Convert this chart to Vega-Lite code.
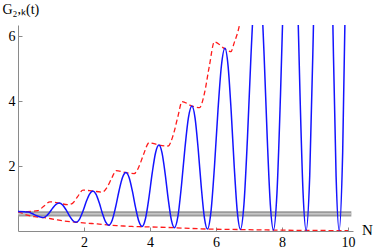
{
  "$schema": "https://vega.github.io/schema/vega-lite/v6.json",
  "width": 335,
  "height": 206,
  "autosize": {"type": "none"},
  "padding": {"left": 18, "top": 25, "right": 21, "bottom": 19},
  "background": "white",
  "config": {
    "view": {"stroke": null},
    "axis": {
      "grid": false,
      "domainColor": "#8a8a8a",
      "tickColor": "#8a8a8a",
      "tickSize": -4,
      "labelFont": "Liberation Serif",
      "labelFontSize": 14,
      "labelColor": "black",
      "titleFont": "Liberation Serif",
      "titleFontSize": 14,
      "titleFontWeight": "normal",
      "titleColor": "black"
    }
  },
  "datasets": {
    "band": [{"x": 0, "x2": 10.1, "y": 0.45, "y2": 0.61}],
    "mid": [{"x": 0, "x2": 10.1, "y": 0.53}],
    "blue": [
      {"x": 0, "y": 0.6}, {"x": 0.2, "y": 0.59}, {"x": 0.312, "y": 0.583}, {"x": 0.424, "y": 0.538}, {"x": 0.536, "y": 0.482}, {"x": 0.648, "y": 0.437}, {"x": 0.76, "y": 0.42},
      {"x": 0.858, "y": 0.462}, {"x": 0.956, "y": 0.572}, {"x": 1.054, "y": 0.708}, {"x": 1.152, "y": 0.818}, {"x": 1.25, "y": 0.86},
      {"x": 1.352, "y": 0.804}, {"x": 1.454, "y": 0.656}, {"x": 1.556, "y": 0.474}, {"x": 1.658, "y": 0.326}, {"x": 1.76, "y": 0.27},
      {"x": 1.862, "y": 0.361}, {"x": 1.964, "y": 0.601}, {"x": 2.066, "y": 0.899}, {"x": 2.168, "y": 1.139}, {"x": 2.27, "y": 1.23},
      {"x": 2.366, "y": 1.13}, {"x": 2.462, "y": 0.868}, {"x": 2.558, "y": 0.542}, {"x": 2.654, "y": 0.28}, {"x": 2.75, "y": 0.18},
      {"x": 2.854, "y": 0.334}, {"x": 2.958, "y": 0.739}, {"x": 3.062, "y": 1.241}, {"x": 3.166, "y": 1.646}, {"x": 3.27, "y": 1.8},
      {"x": 3.368, "y": 1.642}, {"x": 3.466, "y": 1.227}, {"x": 3.564, "y": 0.713}, {"x": 3.662, "y": 0.298}, {"x": 3.76, "y": 0.14},
      {"x": 3.862, "y": 0.378}, {"x": 3.964, "y": 1.006}, {"x": 4.066, "y": 1.784}, {"x": 4.168, "y": 2.412}, {"x": 4.27, "y": 2.65},
      {"x": 4.364, "y": 2.408}, {"x": 4.458, "y": 1.77}, {"x": 4.552, "y": 0.98}, {"x": 4.646, "y": 0.342}, {"x": 4.74, "y": 0.1},
      {"x": 4.846, "y": 0.456}, {"x": 4.952, "y": 1.394}, {"x": 5.058, "y": 2.556}, {"x": 5.164, "y": 3.494}, {"x": 5.27, "y": 3.85},
      {"x": 5.364, "y": 3.49}, {"x": 5.458, "y": 2.542}, {"x": 5.552, "y": 1.368}, {"x": 5.646, "y": 0.42}, {"x": 5.74, "y": 0.06},
      {"x": 5.846, "y": 0.589}, {"x": 5.952, "y": 1.982}, {"x": 6.058, "y": 3.708}, {"x": 6.164, "y": 5.101}, {"x": 6.27, "y": 5.63},
      {"x": 6.364, "y": 5.1}, {"x": 6.458, "y": 3.705}, {"x": 6.552, "y": 1.975}, {"x": 6.646, "y": 0.58}, {"x": 6.74, "y": 0.05},
      {"x": 6.846, "y": 0.824}, {"x": 6.952, "y": 2.862}, {"x": 7.058, "y": 5.388}, {"x": 7.164, "y": 7.426}, {"x": 7.27, "y": 8.2},
      {"x": 7.364, "y": 7.424}, {"x": 7.458, "y": 5.381}, {"x": 7.552, "y": 2.849}, {"x": 7.646, "y": 0.806}, {"x": 7.74, "y": 0.03},
      {"x": 7.846, "y": 1.167}, {"x": 7.952, "y": 4.16}, {"x": 8.058, "y": 7.87}, {"x": 8.164, "y": 10.863}, {"x": 8.27, "y": 12},
      {"x": 8.362, "y": 10.862}, {"x": 8.454, "y": 7.867}, {"x": 8.546, "y": 4.153}, {"x": 8.638, "y": 1.158}, {"x": 8.73, "y": 0.02},
      {"x": 8.838, "y": 1.681}, {"x": 8.946, "y": 6.051}, {"x": 9.054, "y": 11.469}, {"x": 9.162, "y": 15.839}, {"x": 9.27, "y": 17.5},
      {"x": 9.362, "y": 15.839}, {"x": 9.454, "y": 11.469}, {"x": 9.546, "y": 6.051}, {"x": 9.638, "y": 1.681}, {"x": 9.73, "y": 0.02},
      {"x": 9.838, "y": 2.45}, {"x": 9.946, "y": 8.845}, {"x": 10.0, "y": 12.81}
    ],
    "upper": [
      {"x": 0, "y": 0.6}, {"x": 0.3, "y": 0.6}, {"x": 0.6, "y": 0.63}, {"x": 0.8, "y": 0.78}, {"x": 0.97, "y": 0.9},
      {"x": 1.24, "y": 0.86}, {"x": 1.5, "y": 0.81}, {"x": 1.65, "y": 0.85}, {"x": 1.8, "y": 1.05}, {"x": 1.97, "y": 1.26},
      {"x": 2.27, "y": 1.23}, {"x": 2.55, "y": 1.2}, {"x": 2.7, "y": 1.35}, {"x": 2.85, "y": 1.65}, {"x": 2.97, "y": 1.86},
      {"x": 3.27, "y": 1.8}, {"x": 3.52, "y": 1.77}, {"x": 3.65, "y": 1.95}, {"x": 3.8, "y": 2.35}, {"x": 3.97, "y": 2.72},
      {"x": 4.27, "y": 2.65}, {"x": 4.55, "y": 2.62}, {"x": 4.7, "y": 2.95}, {"x": 4.85, "y": 3.55}, {"x": 4.97, "y": 3.99},
      {"x": 5.27, "y": 3.85}, {"x": 5.5, "y": 3.8}, {"x": 5.65, "y": 4.25}, {"x": 5.8, "y": 5.1}, {"x": 5.95, "y": 5.83},
      {"x": 6.25, "y": 5.63}, {"x": 6.45, "y": 5.53}, {"x": 6.55, "y": 5.8}, {"x": 6.7, "y": 6.3}, {"x": 6.85, "y": 7.2}
    ],
    "lower": [
      {"x": 0, "y": 0.6}, {"x": 0.25, "y": 0.5}, {"x": 0.5, "y": 0.44}, {"x": 0.8, "y": 0.41}, {"x": 1.1, "y": 0.36},
      {"x": 1.4, "y": 0.31}, {"x": 1.75, "y": 0.27}, {"x": 2.1, "y": 0.24}, {"x": 2.4, "y": 0.22}, {"x": 2.75, "y": 0.18},
      {"x": 3.1, "y": 0.16}, {"x": 3.45, "y": 0.14}, {"x": 3.76, "y": 0.13}, {"x": 4.2, "y": 0.12}, {"x": 4.74, "y": 0.1},
      {"x": 5.2, "y": 0.08}, {"x": 5.74, "y": 0.06}, {"x": 6.2, "y": 0.05}, {"x": 6.74, "y": 0.045}, {"x": 7.2, "y": 0.035},
      {"x": 7.74, "y": 0.03}, {"x": 8.5, "y": 0.02}, {"x": 9.3, "y": 0.015}, {"x": 10.0, "y": 0.012}
    ]
  },
  "encoding": {
    "x": {
      "field": "x", "type": "quantitative",
      "scale": {"domain": [0, 10.15], "nice": false, "zero": false},
      "axis": {
        "values": [2, 4, 6, 8, 10],
        "labelPadding": 8,
        "labelFlush": false,
        "title": "N",
        "titleX": 349, "titleY": -2,
        "titleAlign": "center", "titleBaseline": "middle",
        "titleFontSize": 15
      }
    },
    "y": {
      "field": "y", "type": "quantitative",
      "scale": {"domain": [0, 6.35], "nice": false, "zero": false},
      "axis": {
        "values": [2, 4, 6],
        "labelPadding": 7,
        "labelFlush": false,
        "title": "G₂,ₖ(t)",
        "titleAngle": 0,
        "titleX": -16, "titleY": -16,
        "titleAlign": "left", "titleBaseline": "middle"
      }
    }
  },
  "layer": [
    {
      "data": {"name": "band"},
      "mark": {"type": "rect", "color": "#9b9b9b"},
      "encoding": {"x2": {"field": "x2"}, "y2": {"field": "y2"}}
    },
    {
      "data": {"name": "mid"},
      "mark": {"type": "rule", "color": "#d4d4d4", "strokeWidth": 1.2},
      "encoding": {"x2": {"field": "x2"}}
    },
    {
      "data": {"name": "lower"},
      "mark": {"type": "line", "color": "#ff1a1a", "strokeWidth": 1.3, "strokeDash": [5, 3], "interpolate": "monotone", "clip": true}
    },
    {
      "data": {"name": "upper"},
      "mark": {"type": "line", "color": "#ff1a1a", "strokeWidth": 1.3, "strokeDash": [5, 3], "interpolate": "monotone", "clip": true}
    },
    {
      "data": {"name": "blue"},
      "mark": {"type": "line", "color": "#1414ff", "strokeWidth": 1.5, "interpolate": "monotone", "clip": true}
    }
  ]
}
